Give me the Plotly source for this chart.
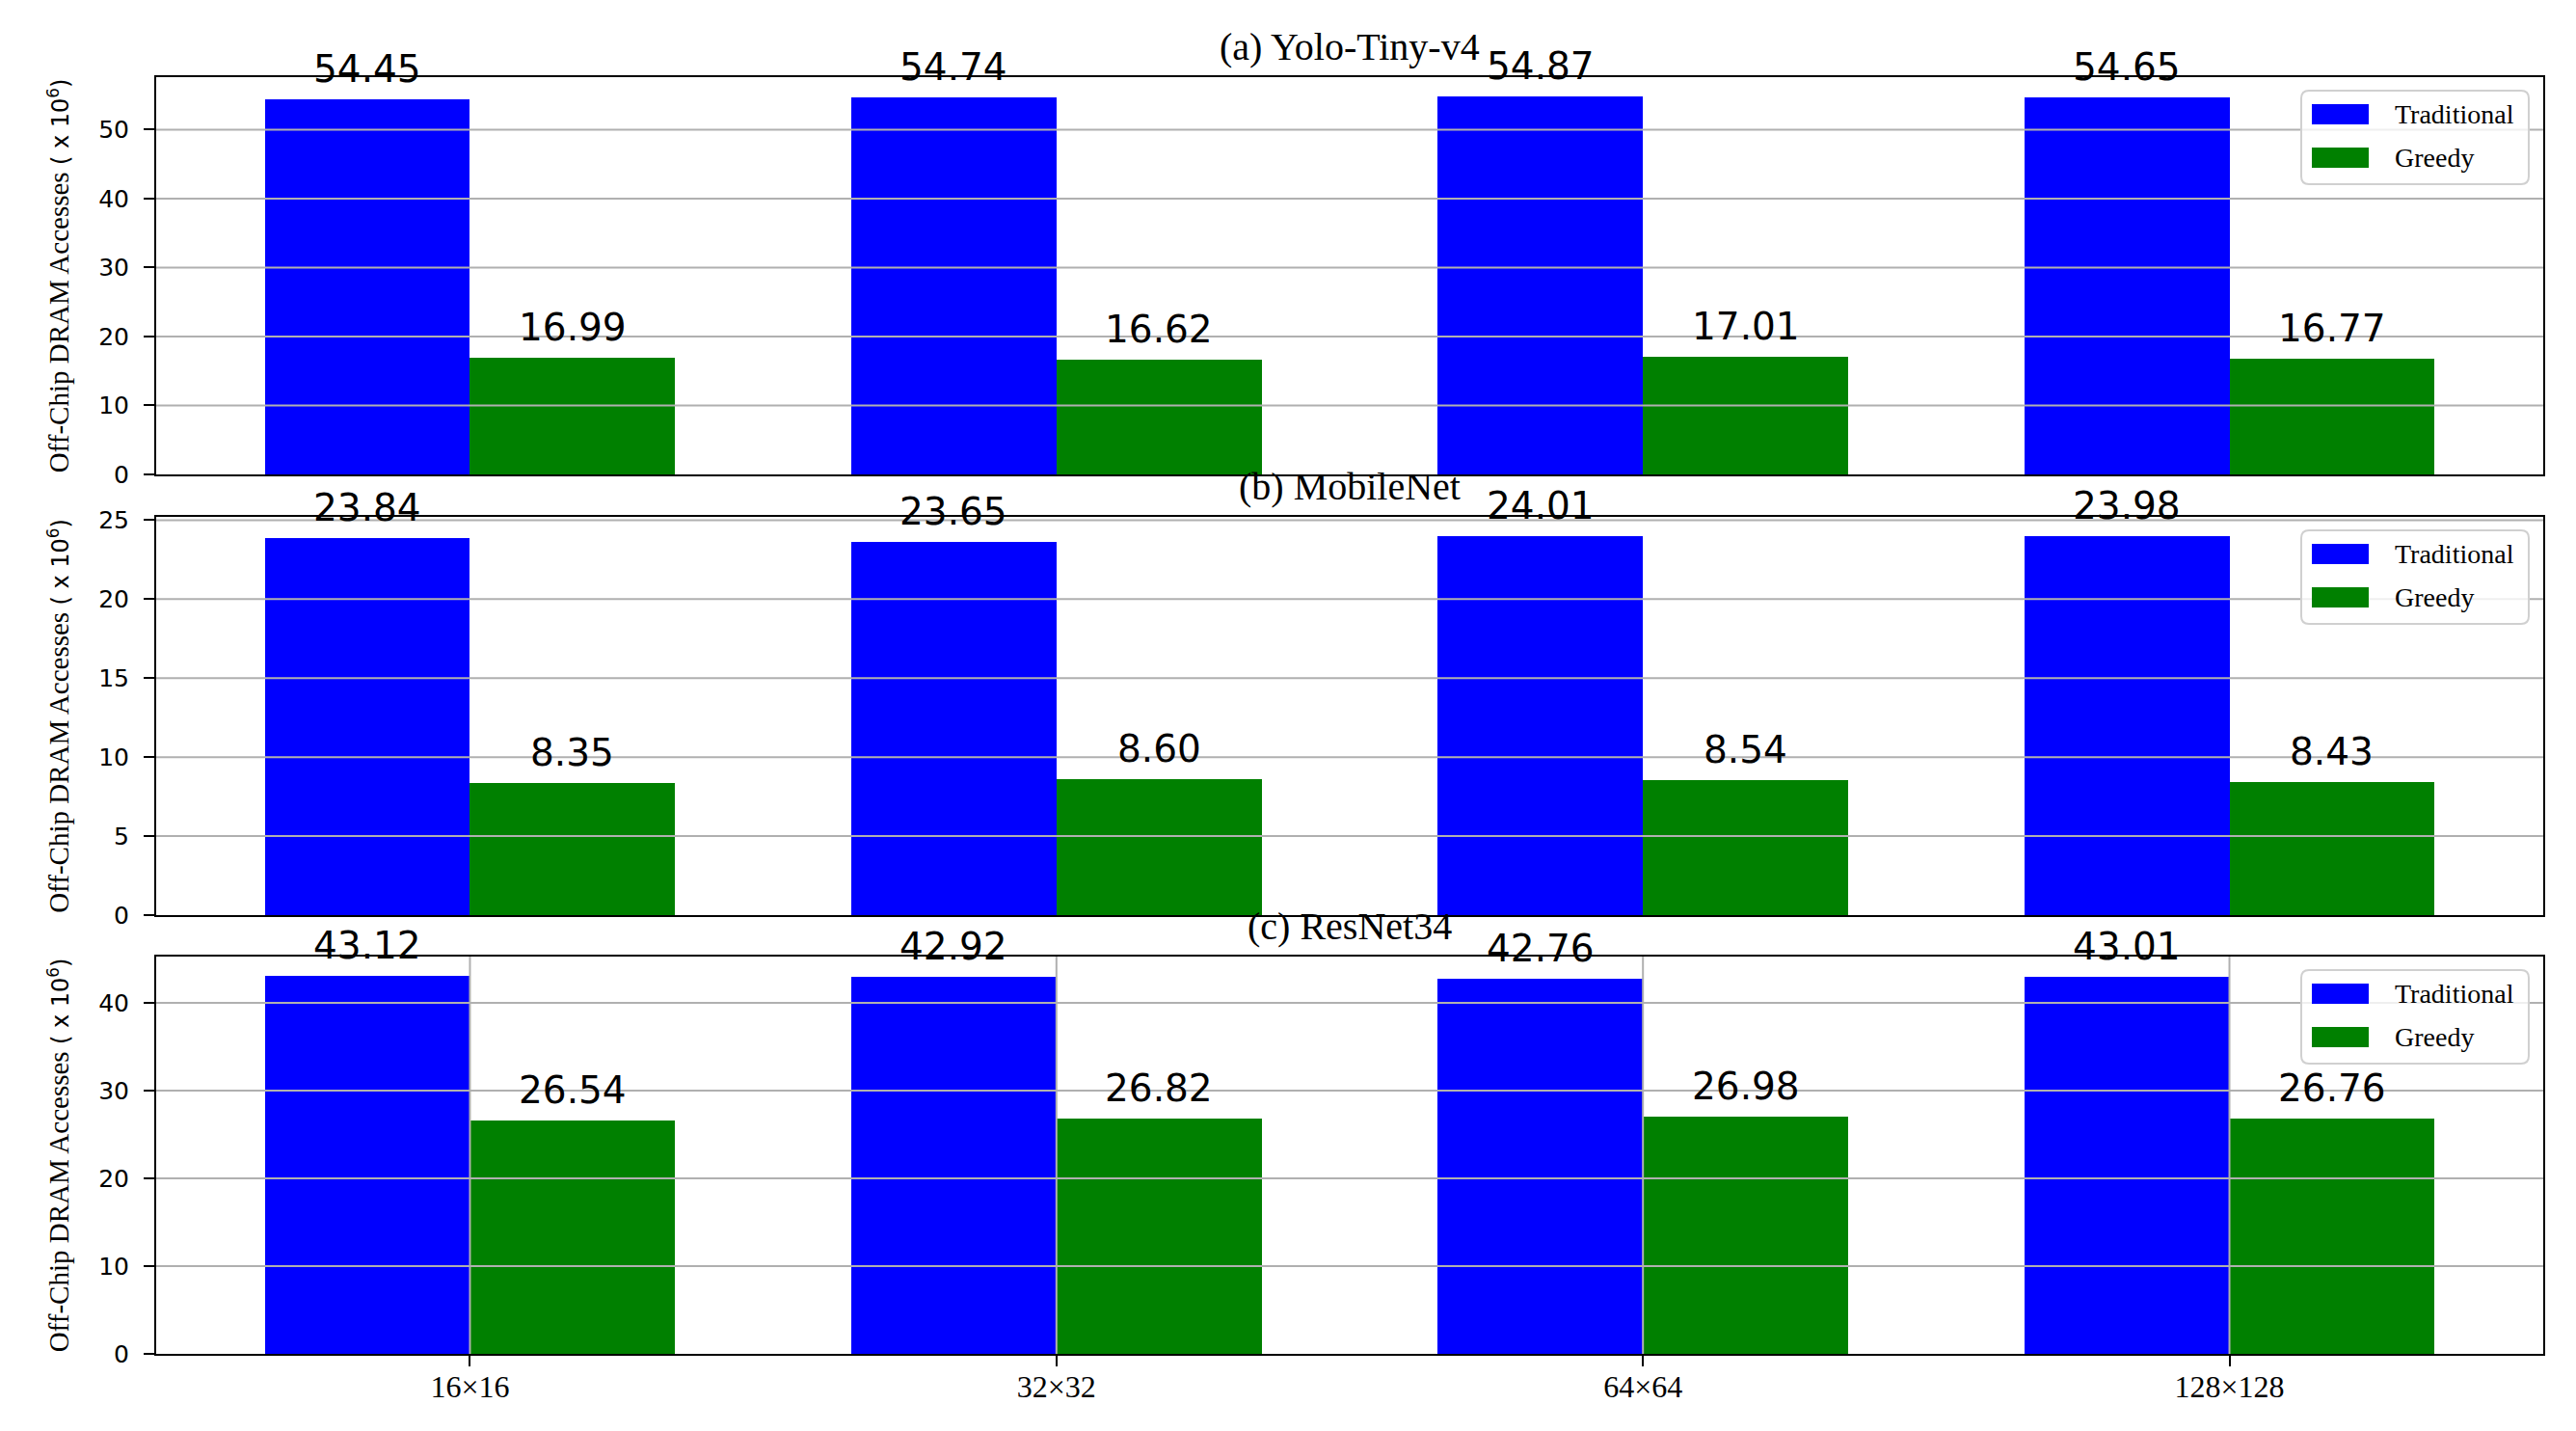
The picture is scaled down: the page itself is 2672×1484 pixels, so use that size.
import plotly.graph_objects as go

# ---------------- data ----------------
categories = ["16×16", "32×32", "64×64", "128×128"]
series_names = ["Traditional", "Greedy"]
panel_titles = ["(a) Yolo-Tiny-v4", "(b) MobileNet", "(c) ResNet34"]

yolo_traditional = [54.45, 54.74, 54.87, 54.65]
yolo_greedy = [16.99, 16.62, 17.01, 16.77]
mobilenet_traditional = [23.84, 23.65, 24.01, 23.98]
mobilenet_greedy = [8.35, 8.60, 8.54, 8.43]
resnet_traditional = [43.12, 42.92, 42.76, 43.01]
resnet_greedy = [26.54, 26.82, 26.98, 26.76]

yticks_yolo = [0, 10, 20, 30, 40, 50]
yticks_mobilenet = [0, 5, 10, 15, 20, 25]
yticks_resnet = [0, 10, 20, 30, 40]

panels = [
    (panel_titles[0], yolo_traditional, yolo_greedy, yticks_yolo),
    (panel_titles[1], mobilenet_traditional, mobilenet_greedy, yticks_mobilenet),
    (panel_titles[2], resnet_traditional, resnet_greedy, yticks_resnet),
]

# ---------------- style / layout ----------------
W, H = 2672, 1484
L, R, T, B = 154, 42, 72, 88
panel_px = [(72, 484), (528, 941), (984, 1396)]  # top, bottom in figure pixels
plot_w = W - L - R
plot_h = H - T - B
colors = ["#0000ff", "#008000"]
bar_w = 0.35
grid_color = "#b0b0b0"
SERIF = "Liberation Serif, Times New Roman, serif"
SANS = "DejaVu Sans, sans-serif"


def px_x(X):
    return (X - L) / plot_w


def px_y(Y):
    return (H - B - Y) / plot_h


def rounded_rect(x0, y0, x1, y1, r):
    # pixel rectangle (y down) -> paper path with rounded corners
    X = px_x
    Y = px_y
    return (f"M{X(x0 + r)},{Y(y0)} L{X(x1 - r)},{Y(y0)} Q{X(x1)},{Y(y0)} {X(x1)},{Y(y0 + r)} "
            f"L{X(x1)},{Y(y1 - r)} Q{X(x1)},{Y(y1)} {X(x1 - r)},{Y(y1)} "
            f"L{X(x0 + r)},{Y(y1)} Q{X(x0)},{Y(y1)} {X(x0)},{Y(y1 - r)} "
            f"L{X(x0)},{Y(y0 + r)} Q{X(x0)},{Y(y0)} {X(x0 + r)},{Y(y0)} Z")


fig = go.Figure()
annotations = []
shapes = []
xpos = list(range(len(categories)))
ytitle = ("Off-Chip DRAM Accesses "
          "<span style='font-family:DejaVu Sans;font-size:24px'>( x 10<sup>6</sup>)</span>")

for p, (title, trad, greedy, yt) in enumerate(panels):
    n = p + 1
    xa = "x" if n == 1 else f"x{n}"
    ya = "y" if n == 1 else f"y{n}"
    for s, (name, vals) in enumerate(zip(series_names, [trad, greedy])):
        off = (-bar_w / 2) if s == 0 else (bar_w / 2)
        xs = [i + off for i in xpos]
        fig.add_trace(go.Bar(
            x=xs, y=vals, width=bar_w, name=name, marker_color=colors[s],
            marker_line_width=0, xaxis=xa, yaxis=ya, showlegend=False,
        ))
        for x, v in zip(xs, vals):
            annotations.append(dict(
                x=x, y=v, xref=xa, yref=ya, text=f"{v:.2f}", showarrow=False,
                yanchor="bottom", xanchor="center", yshift=7,
                font=dict(family=SANS, size=39, color="black"),
            ))
    top_px, bot_px = panel_px[p]
    d0 = px_y(bot_px)
    d1 = px_y(top_px)
    ymax = max(trad + greedy) * 1.05
    is_last = (p == len(panels) - 1)
    xkey = "xaxis" if n == 1 else f"xaxis{n}"
    ykey = "yaxis" if n == 1 else f"yaxis{n}"
    fig.update_layout(**{
        xkey: dict(
            domain=[0, 1], anchor=ya, range=[-0.535, 3.535],
            tickvals=xpos, ticktext=categories,
            showticklabels=is_last, ticks="outside" if is_last else "",
            ticklen=11, tickwidth=2, tickcolor="black",
            showline=True, linecolor="black", linewidth=2, mirror=True,
            showgrid=False, zeroline=False,
            tickfont=dict(family=SERIF, size=32, color="black"),
            ticklabelstandoff=-6,
        ),
        ykey: dict(
            domain=[d0, d1], anchor=xa, range=[0, ymax],
            tickvals=yt, ticks="outside", ticklen=11, tickwidth=2, tickcolor="black",
            showline=True, linecolor="black", linewidth=2, mirror=True,
            showgrid=False, zeroline=False,
            tickfont=dict(family=SANS, size=25, color="black"),
            ticklabelstandoff=10,
            title=dict(text=ytitle, font=dict(family=SERIF, size=29, color="black"), standoff=22),
        ),
    })
    # grid lines drawn above bars (matplotlib grid with axisbelow=False)
    for v in yt:
        if v == 0:
            continue
        shapes.append(dict(type="line", xref=f"{xa} domain", yref=ya, x0=0, x1=1, y0=v, y1=v,
                           line=dict(color=grid_color, width=2), layer="above"))
    if is_last:
        for i in xpos:
            shapes.append(dict(type="line", xref=xa, yref=f"{ya} domain", x0=i, x1=i, y0=0, y1=1,
                               line=dict(color=grid_color, width=2), layer="above"))
    # panel title
    annotations.append(dict(
        x=0.5, y=d1, xref="paper", yref="paper", text=title, showarrow=False,
        xanchor="center", yanchor="bottom", yshift=7,
        font=dict(family=SERIF, size=40, color="black"),
    ))
    # legend box (matplotlib-style, upper right)
    right = W - R
    shapes.append(dict(type="path", xref="paper", yref="paper",
                       path=rounded_rect(right - 251, top_px + 14, right - 15, top_px + 111, 8),
                       fillcolor="rgba(255,255,255,0.8)", line=dict(color="#d0d0d0", width=2),
                       layer="above"))
    for s, name in enumerate(series_names):
        sy0 = top_px + 28 + s * 45
        shapes.append(dict(type="rect", xref="paper", yref="paper",
                           x0=px_x(right - 240), x1=px_x(right - 181),
                           y0=px_y(sy0), y1=px_y(sy0 + 21),
                           fillcolor=colors[s], line=dict(width=0), layer="above"))
        annotations.append(dict(
            x=px_x(right - 156), y=px_y(sy0 + 10), xref="paper", yref="paper",
            text=name, showarrow=False, xanchor="left", yanchor="middle",
            font=dict(family=SERIF, size=28, color="black"),
        ))

fig.update_layout(
    width=W, height=H, margin=dict(l=L, r=R, t=T, b=B, autoexpand=False),
    paper_bgcolor="white", plot_bgcolor="white",
    barmode="overlay", bargap=0, showlegend=False,
    annotations=annotations, shapes=shapes,
)

fig.write_html("out.html")
